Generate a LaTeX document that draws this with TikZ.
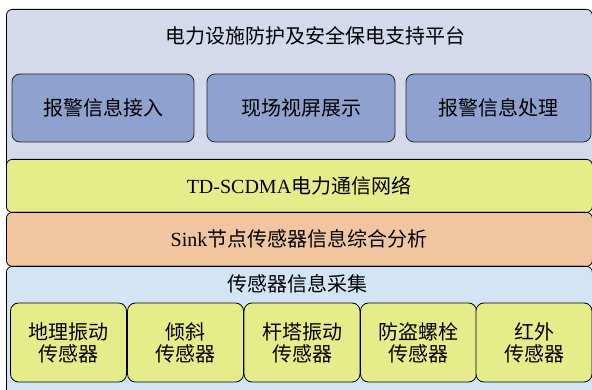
\documentclass[tikz,border=0pt]{standalone}
\usepackage{fontspec}
\setmainfont{Liberation Serif}
\newfontfamily\cjk{Noto Sans CJK SC}
\definecolor{toplav}{RGB}{212,217,236}
\definecolor{modblue}{RGB}{143,161,206}
\definecolor{bandyellow}{RGB}{229,236,138}
\definecolor{bandorange}{RGB}{241,197,160}
\definecolor{bottomblue}{RGB}{211,229,245}
\begin{document}
\begin{tikzpicture}[x=1pt,y=-1pt,line width=.8pt,
	panel/.style={draw,rounded corners=6pt,anchor=north west,inner sep=0pt,minimum width=586pt},
	modbox/.style={draw=black!85,fill=modblue,rounded corners=8pt,minimum height=68pt,inner sep=0pt},
	sensorbox/.style={draw,fill=bandyellow,rounded corners=8pt,minimum width=116pt,minimum height=79pt,inner sep=0pt,align=center,font=\fontsize{20}{22}\selectfont\cjk}]
	\tikzset{every node/.style={font=\fontsize{20}{24}\selectfont\cjk}}
	\clip (0,0) rectangle (592,390);
	% platform layer
	\node[panel,fill=toplav,minimum height=160pt] (platform) at (6,9) {};
	\node (platformtitle) at (315,36) {电力设施防护及安全保电支持平台};
	\node[modbox,minimum width=182pt] (alarmin) at (103,108) {报警信息接入};
	\node[modbox,minimum width=188pt] (sitescreen) at (301,108) {现场视屏展示};
	\node[modbox,minimum width=185pt] (alarmproc) at (498.5,108) {报警信息处理};
	% network and sink layers
	\node[panel,fill=bandyellow,minimum height=53pt] (network) at (6,159) {};
	\node (networktitle) at (299,185.5) {\rmfamily TD-SCDMA\cjk 电力通信网络};
	\node[panel,fill=bandorange,minimum height=54pt] (sink) at (6,212) {};
	\node (sinktitle) at (299,239) {\rmfamily Sink\cjk 节点传感器信息综合分析};
	% sensor layer
	\node[panel,fill=bottomblue,minimum height=140pt] (collect) at (6,266) {};
	\node (collecttitle) at (297,284) {传感器信息采集};
	\node[sensorbox] (buried) at (68.5,342.5) {地理振动\\传感器};
	\node[sensorbox] (tilt) at (185.5,342.5) {倾斜\\传感器};
	\node[sensorbox] (tower) at (302,342.5) {杆塔振动\\传感器};
	\node[sensorbox] (bolt) at (418.5,342.5) {防盗螺栓\\传感器};
	\node[sensorbox] (infrared) at (534,342.5) {红外\\传感器};
\end{tikzpicture}
\end{document}
